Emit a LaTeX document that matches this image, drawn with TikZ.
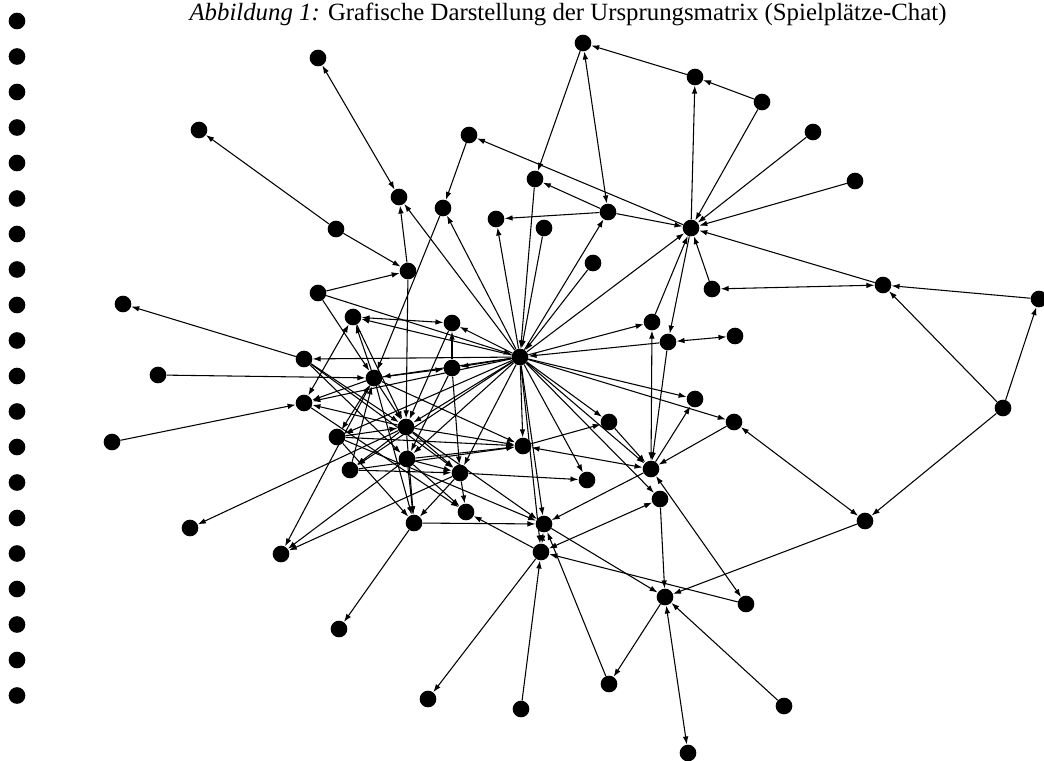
\documentclass[tikz,border=0pt]{standalone}
\usepackage{fontspec}
\setmainfont{Liberation Serif}
\usetikzlibrary{arrows.meta}

\begin{document}
\begin{tikzpicture}[x=0.75pt, y=-0.75pt,
  actor/.style={circle, fill=black, inner sep=0pt, minimum size=12.5pt},
  tie/.style={-{Latex[length=6pt, width=4.2pt]}, line width=0.8pt},
  mutual/.style={{Latex[length=6pt, width=4.2pt]}-{Latex[length=6pt, width=4.2pt]}, line width=0.8pt}
]
  \useasboundingbox (0,0) rectangle (1044,760);

  \node[font=\fontsize{18.6}{22}\selectfont] (title) at (568,14)
    {\textit{Abbildung 1:} Grafische Darstellung der Ursprungsmatrix (Spielplätze-Chat)};

  % isolates
  \foreach \k in {0,...,19}
    \node[actor] (iso\k) at (17, 21+35.5*\k) {};

  % chat participants
  \node[actor] (A) at (318,58) {};
  \node[actor] (B) at (199,130) {};
  \node[actor] (C) at (583,43) {};
  \node[actor] (D) at (695,77) {};
  \node[actor] (E) at (762,102) {};
  \node[actor] (F) at (469,135) {};
  \node[actor] (G) at (813,132) {};
  \node[actor] (H) at (855,181) {};
  \node[actor] (I) at (535,179) {};
  \node[actor] (J) at (608,212) {};
  \node[actor] (K) at (443,208) {};
  \node[actor] (L) at (399,197) {};
  \node[actor] (M) at (496,219) {};
  \node[actor] (N) at (544,228) {};
  \node[actor] (O) at (593,263) {};
  \node[actor] (P) at (691,228) {};
  \node[actor] (Q) at (336,229) {};
  \node[actor] (R) at (408,271) {};
  \node[actor] (S) at (318,293) {};
  \node[actor] (T) at (712,289) {};
  \node[actor] (U) at (883,285) {};
  \node[actor] (V) at (1039,299) {};
  \node[actor] (W) at (123,304) {};
  \node[actor] (X) at (353,317) {};
  \node[actor] (Y) at (452,323) {};
  \node[actor] (Z) at (652,322) {};
  \node[actor] (AA) at (668,342) {};
  \node[actor] (AB) at (735,336) {};
  \node[actor] (hub) at (520,357) {};
  \node[actor] (AC) at (304,359) {};
  \node[actor] (AD) at (158,375) {};
  \node[actor] (AE) at (452,368) {};
  \node[actor] (AF) at (374,378) {};
  \node[actor] (AG) at (695,399) {};
  \node[actor] (AH) at (304,403) {};
  \node[actor] (AI) at (1003,408) {};
  \node[actor] (AJ) at (609,422) {};
  \node[actor] (AK) at (734,422) {};
  \node[actor] (AL) at (406,427) {};
  \node[actor] (AM) at (337,437) {};
  \node[actor] (AN) at (112,442) {};
  \node[actor] (AO) at (523,446) {};
  \node[actor] (AP) at (407,459) {};
  \node[actor] (AQ) at (350,470) {};
  \node[actor] (AR) at (460,473) {};
  \node[actor] (AS) at (651,469) {};
  \node[actor] (AT) at (587,480) {};
  \node[actor] (AU) at (660,499) {};
  \node[actor] (AV) at (466,512) {};
  \node[actor] (AW) at (414,523) {};
  \node[actor] (AX) at (544,524) {};
  \node[actor] (AY) at (865,521) {};
  \node[actor] (AZ) at (190,528) {};
  \node[actor] (BA) at (541,552) {};
  \node[actor] (BB) at (281,554) {};
  \node[actor] (BC) at (665,597) {};
  \node[actor] (BD) at (746,604) {};
  \node[actor] (BE) at (339,629) {};
  \node[actor] (BF) at (609,684) {};
  \node[actor] (BG) at (521,709) {};
  \node[actor] (BH) at (784,706) {};
  \node[actor] (BI) at (428,699) {};
  \node[actor] (BJ) at (688,753) {};

  % one-way ties
  \foreach \s/\t in {Q/B, Q/R, S/R, R/L, hub/L, F/K, K/AF, hub/K, D/C, E/D, P/D, C/I,
      E/P, G/P, H/P, U/P, V/U, AI/U, AI/V, AI/AY, P/F, J/I, J/M, J/P, hub/M, I/hub,
      N/hub, hub/J, O/hub, hub/P, T/P, P/AA, Z/P, AA/AS, AK/AS, AS/AG, hub/AG, hub/AK,
      hub/Z, AA/hub, AY/BC, AU/BC, AX/BC, BC/BF, BH/BC, BD/BA, BF/AX, BG/BA, BA/BI,
      BA/AV, AS/AX, AW/AX, AL/AZ, AF/BB, AP/BB, AR/BB, AM/AW, AP/AW, AR/AW, AW/BE,
      AR/AV, AP/AV, AR/AT, AO/AJ, AJ/AS, hub/AO, hub/AX, hub/BA, hub/AJ, hub/AS,
      hub/AU, hub/AT, hub/X, hub/Y, AF/AE, AE/Y, AE/AR, AF/X, hub/AC, AD/AF, AC/W,
      AN/AH, AF/AH, AL/AH, S/AF, S/hub, hub/AE, hub/AF, hub/AL, hub/AP, hub/AR,
      hub/AQ, hub/AM, hub/AH, X/AL, AL/AQ, AF/AL, AL/AR, AQ/AR, AP/AR, AC/AL, AC/AR,
      AQ/AF, AM/AO, AL/AO, AP/AO, AF/AO, AM/AX, AL/AX, AH/AV, AL/AW, AM/AL, R/AL,
      AE/AP, AC/AP, Y/AL, AQ/AO, AF/AW}
    \draw[tie] (\s) -- (\t);

  % two-way ties
  \foreach \s/\t in {A/L, C/J, T/U, Z/AS, AA/AB, AK/AY, AS/BD, BC/BJ, BA/AX, BA/AU,
      AO/AS, X/Y, X/AH, AM/AF}
    \draw[mutual] (\s) -- (\t);
\end{tikzpicture}
\end{document}
